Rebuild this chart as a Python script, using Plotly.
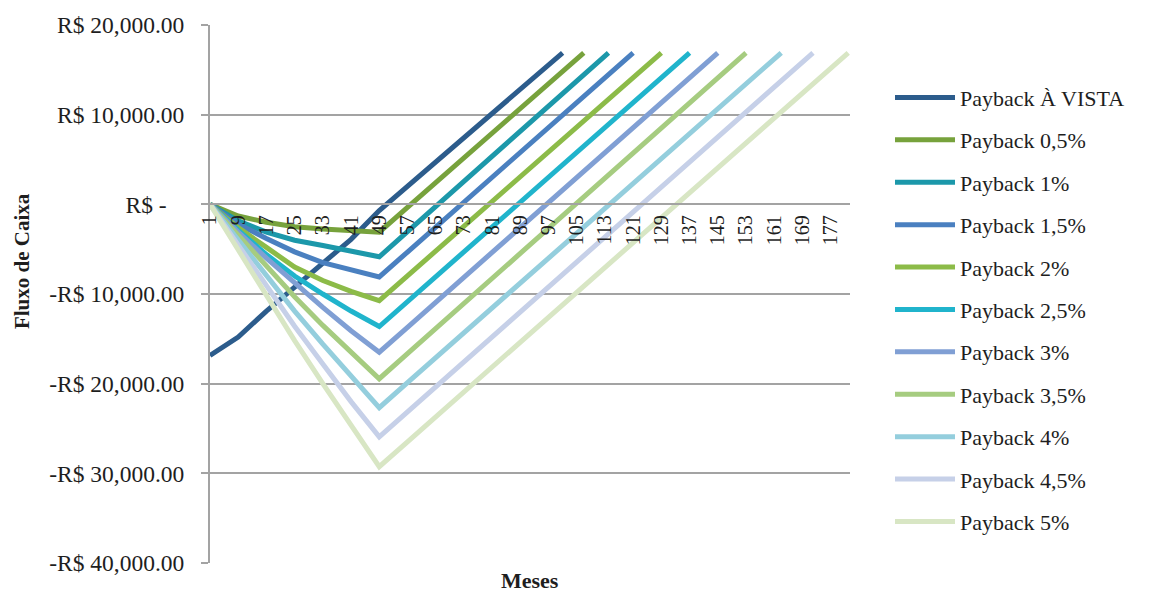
import plotly.graph_objects as go

# Cumulative cash flow (R$) by month for each payment option
series_names = [
    "Payback À VISTA", "Payback 0,5%", "Payback 1%", "Payback 1,5%",
    "Payback 2%", "Payback 2,5%", "Payback 3%", "Payback 3,5%",
    "Payback 4%", "Payback 4,5%", "Payback 5%",
]
series_colors = [
    "#2C5C8C", "#77A23C", "#1C98AA", "#4A80C0", "#8CBB48", "#20B4CC",
    "#809FD4", "#A6CC80", "#94CEDD", "#C6D0E8", "#D8E6C4",
]

months_a_vista = [1, 9, 17, 25, 33, 41, 49, 57, 65, 73, 81, 89, 97, 101]
flow_a_vista = [-16850, -14800, -11900, -9200, -6600, -3900, -700, 2000, 4700,
                7400, 10100, 12800, 15550, 16900]

months_05 = [1, 9, 17, 25, 33, 41, 49, 57, 65, 73, 81, 89, 97, 105, 107]
flow_05 = [0, -1300, -2000, -2500, -2750, -2900, -3100, -340, 2420, 5180, 7930,
           10690, 13450, 16210, 16900]

months_10 = [1, 9, 17, 25, 33, 41, 49, 57, 65, 73, 81, 89, 97, 105, 113, 114]
flow_10 = [0, -1850, -3100, -4000, -4600, -5200, -5850, -3050, -250, 2550, 5350,
           8150, 10950, 13750, 16550, 16900]

months_15 = [1, 9, 17, 25, 33, 41, 49, 57, 65, 73, 81, 89, 97, 105, 113, 121]
flow_15 = [0, -2200, -3800, -5300, -6500, -7300, -8100, -5320, -2540, 230, 3010,
           5790, 8570, 11340, 14120, 16900]

months_20 = [1, 9, 17, 25, 33, 41, 49, 57, 65, 73, 81, 89, 97, 105, 113, 121, 129]
flow_20 = [0, -2600, -4800, -7000, -8500, -9700, -10740, -7980, -5210, -2450, 320,
           3080, 5840, 8610, 11370, 14140, 16900]

months_25 = [1, 9, 17, 25, 33, 41, 49, 57, 65, 73, 81, 89, 97, 105, 113, 121, 129,
             137]
flow_25 = [0, -2900, -5600, -8000, -10000, -11900, -13630, -10850, -8080, -5300,
           -2530, 250, 3020, 5800, 8570, 11350, 14120, 16900]

months_30 = [1, 9, 17, 25, 33, 41, 49, 57, 65, 73, 81, 89, 97, 105, 113, 121, 129,
             137, 145]
flow_30 = [0, -3100, -6000, -8800, -11500, -14100, -16490, -13710, -10930, -8140,
           -5360, -2580, 200, 2990, 5770, 8550, 11330, 14120, 16900]

months_35 = [1, 9, 17, 25, 33, 41, 49, 57, 65, 73, 81, 89, 97, 105, 113, 121, 129,
             137, 145, 153]
flow_35 = [0, -3500, -6900, -10300, -13500, -16500, -19450, -16650, -13860, -11060,
           -8270, -5470, -2680, 120, 2910, 5710, 8500, 11300, 14100, 16900]

months_40 = [1, 9, 17, 25, 33, 41, 49, 57, 65, 73, 81, 89, 97, 105, 113, 121, 129,
             137, 145, 153, 161, 163]
flow_40 = [0, -4000, -8000, -11900, -15600, -19200, -22670, -19890, -17120, -14340,
           -11560, -8790, -6010, -3240, -460, 2310, 5090, 7870, 10640, 13420, 16200,
           16900]

months_45 = [1, 9, 17, 25, 33, 41, 49, 57, 65, 73, 81, 89, 97, 105, 113, 121, 129,
             137, 145, 153, 161, 169, 172]
flow_45 = [0, -4500, -9100, -13600, -17800, -22000, -25930, -23140, -20360, -17570,
           -14790, -12000, -9210, -6430, -3640, -860, 1930, 4720, 7500, 10290, 13070,
           15860, 16900]

months_50 = [1, 9, 17, 25, 33, 41, 49, 57, 65, 73, 81, 89, 97, 105, 113, 121, 129,
             137, 145, 153, 161, 169, 177, 182]
flow_50 = [0, -5100, -10200, -15200, -20000, -24700, -29260, -26480, -23710, -20930,
           -18150, -15380, -12600, -9820, -7040, -4270, -1490, 1290, 4060, 6840, 9620,
           12390, 15170, 16900]

all_months = [months_a_vista, months_05, months_10, months_15, months_20, months_25,
              months_30, months_35, months_40, months_45, months_50]
all_flows = [flow_a_vista, flow_05, flow_10, flow_15, flow_20, flow_25,
             flow_30, flow_35, flow_40, flow_45, flow_50]

x_tick_values = list(range(1, 178, 8))
y_tick_values = [20000, 10000, 0, -10000, -20000, -30000, -40000]
y_tick_labels = ["R$ 20,000.00", "R$ 10,000.00", "R$ -\u00a0\u00a0\u00a0",
                 "-R$ 10,000.00", "-R$ 20,000.00", "-R$ 30,000.00", "-R$ 40,000.00"]

SERIF = "Liberation Serif"
GRID = "#A3A3A3"
TEXT = "#1E1E1E"

fig = go.Figure()
for name, color, mx, fy in zip(series_names, series_colors, all_months, all_flows):
    fig.add_trace(go.Scatter(
        x=mx, y=fy, mode="lines", name=name, legendgroup=name,
        line=dict(color=color, width=5, shape="linear"),
    ))

fig.update_layout(
    width=1157, height=594,
    margin=dict(l=210, r=307, t=23, b=31),
    plot_bgcolor="white", paper_bgcolor="white",
    font=dict(family=SERIF, color=TEXT),
    legend=dict(
        x=1.0625, xanchor="left", y=0.904, yanchor="top",
        xref="paper", yref="paper",
        font=dict(family=SERIF, size=22, color=TEXT),
        itemwidth=60, tracegroupgap=10.8,
        bgcolor="rgba(0,0,0,0)",
    ),
    xaxis=dict(
        range=[1, 182.5], anchor="free", position=2 / 3,
        tickmode="array", tickvals=x_tick_values,
        ticktext=[str(v) for v in x_tick_values],
        tickangle=-90, tickfont=dict(family=SERIF, size=20, color=TEXT),
        showgrid=False, zeroline=False,
        showline=True, linecolor=GRID, linewidth=2,
        ticks="", ticklabelstandoff=2,
    ),
    yaxis=dict(
        range=[-40000, 20000],
        tickmode="array", tickvals=y_tick_values, ticktext=y_tick_labels,
        tickfont=dict(family=SERIF, size=23.5, color=TEXT),
        showgrid=True, gridcolor=GRID, gridwidth=2,
        zeroline=False,
        showline=True, linecolor=GRID, linewidth=2,
        ticks="outside", ticklen=7, tickcolor=GRID, tickwidth=2,
        ticklabelstandoff=12,
    ),
    annotations=[
        dict(text="<b>Fluxo de Caixa</b>", xref="paper", yref="paper",
             x=(22 - 210) / 640, y=(563 - 260) / 540, textangle=-90,
             showarrow=False, xanchor="center", yanchor="middle",
             font=dict(family=SERIF, size=21, color=TEXT)),
        dict(text="<b>Meses</b>", xref="paper", yref="paper",
             x=0.5, y=(563 - 581) / 540, showarrow=False,
             xanchor="center", yanchor="middle",
             font=dict(family=SERIF, size=22, color=TEXT)),
    ],
)

fig.write_html("out.html")
